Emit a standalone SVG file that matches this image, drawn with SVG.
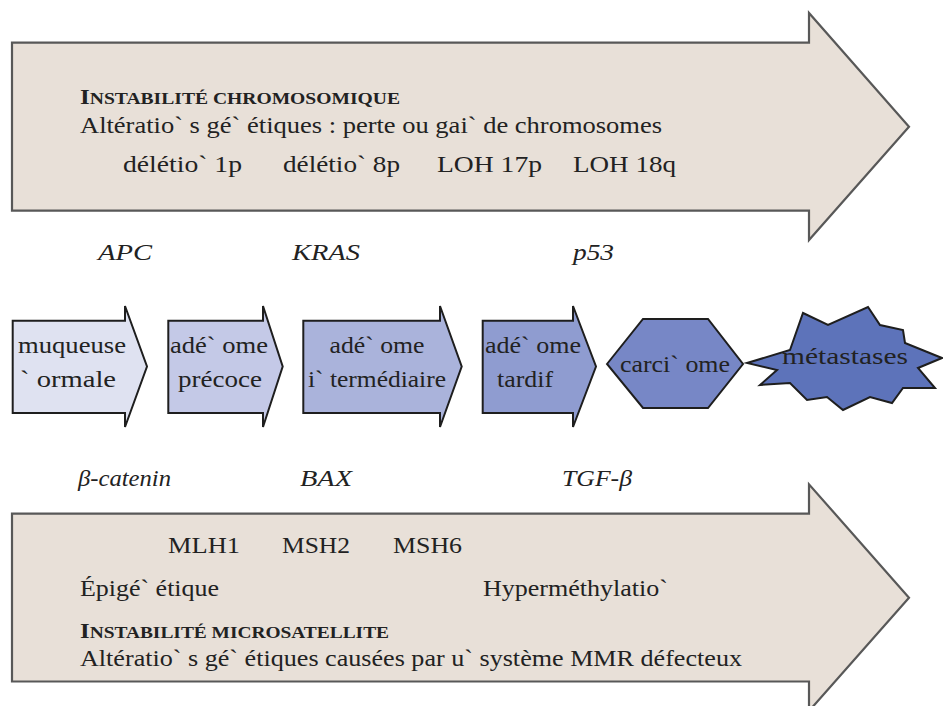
<svg xmlns="http://www.w3.org/2000/svg" width="943" height="706" viewBox="0 0 943 706">
  <style>
    .band { fill: #e8e0d8; stroke: #585858; stroke-width: 2.2; stroke-linejoin: miter; }
    .stage { stroke: #1e1e1e; stroke-width: 2; stroke-linejoin: miter; }
    text { font-family: "Liberation Serif", "DejaVu Serif", serif; fill: #222222; }
    .t { font-size: 23px; }
    .sc { font-size: 16px; font-weight: bold; }
    .cap { font-size: 20.5px; }
    .gene { font-size: 23px; font-style: italic; }
    .lbl { font-size: 24px; text-anchor: middle; }
  </style>
  <rect width="943" height="706" fill="#ffffff"/>

  <!-- top band: chromosomal instability -->
  <g id="band-chromosomique">
    <path class="band" d="M12,42.7 H809 V13 L909,126.7 L809,240 V210.7 H12 Z"/>
    <text class="sc" x="80" y="104" textLength="320" lengthAdjust="spacingAndGlyphs"><tspan class="cap">I</tspan>NSTABILITÉ CHROMOSOMIQUE</text>
    <text class="t" x="80" y="133" textLength="582" lengthAdjust="spacingAndGlyphs">Altératio` s gé` étiques : perte ou gai` de chromosomes</text>
    <text class="t" x="123" y="172" textLength="119" lengthAdjust="spacingAndGlyphs">délétio` 1p</text>
    <text class="t" x="283" y="172" textLength="117" lengthAdjust="spacingAndGlyphs">délétio` 8p</text>
    <text class="t" x="437" y="172" textLength="105" lengthAdjust="spacingAndGlyphs">LOH 17p</text>
    <text class="t" x="573" y="172" textLength="103" lengthAdjust="spacingAndGlyphs">LOH 18q</text>
  </g>

  <!-- bottom band: microsatellite instability -->
  <g id="band-microsatellite">
    <path class="band" d="M12,513.7 H809 V484.3 L909,597.7 L809,711 V681.5 H12 Z"/>
    <text class="t" x="168" y="553" textLength="72" lengthAdjust="spacingAndGlyphs">MLH1</text>
    <text class="t" x="282" y="553" textLength="68" lengthAdjust="spacingAndGlyphs">MSH2</text>
    <text class="t" x="393" y="553" textLength="69" lengthAdjust="spacingAndGlyphs">MSH6</text>
    <text class="t" x="80" y="596" textLength="139" lengthAdjust="spacingAndGlyphs">Épigé` étique</text>
    <text class="t" x="483" y="596" textLength="185" lengthAdjust="spacingAndGlyphs">Hyperméthylatio`</text>
    <text class="sc" x="80" y="638" textLength="309" lengthAdjust="spacingAndGlyphs"><tspan class="cap">I</tspan>NSTABILITÉ MICROSATELLITE</text>
    <text class="t" x="80" y="666" textLength="662" lengthAdjust="spacingAndGlyphs">Altératio` s gé` étiques causées par u` système MMR défecteux</text>
  </g>

  <!-- gene labels -->
  <g id="genes">
    <text class="gene" x="98" y="260" textLength="54" lengthAdjust="spacingAndGlyphs">APC</text>
    <text class="gene" x="292" y="260" textLength="68" lengthAdjust="spacingAndGlyphs">KRAS</text>
    <text class="gene" x="573" y="260" textLength="41" lengthAdjust="spacingAndGlyphs">p53</text>
    <text class="gene" x="78" y="486" textLength="93" lengthAdjust="spacingAndGlyphs">β-catenin</text>
    <text class="gene" x="300" y="486" textLength="52" lengthAdjust="spacingAndGlyphs">BAX</text>
    <text class="gene" x="562" y="486" textLength="70" lengthAdjust="spacingAndGlyphs">TGF-β</text>
  </g>

  <!-- progression stages -->
  <g id="stage-muqueuse">
    <path class="stage" fill="#dfe2f1" d="M12.7,320.7 H125 V306 L147,366.5 L125,427 V413 H12.7 Z"/>
    <text class="lbl" x="72" y="353" textLength="108" lengthAdjust="spacingAndGlyphs">muqueuse</text>
    <text class="lbl" x="68" y="387" textLength="96" lengthAdjust="spacingAndGlyphs">` ormale</text>
  </g>
  <g id="stage-adenome-precoce">
    <path class="stage" fill="#c4c9e7" d="M168.3,320.7 H263 V306 L282.7,366.5 L263,427 V413 H168.3 Z"/>
    <text class="lbl" x="219" y="353" textLength="98" lengthAdjust="spacingAndGlyphs">adé` ome</text>
    <text class="lbl" x="220" y="387" textLength="84" lengthAdjust="spacingAndGlyphs">précoce</text>
  </g>
  <g id="stage-adenome-intermediaire">
    <path class="stage" fill="#aab3db" d="M303.3,320.7 H440 V306 L461.7,366.5 L440,427 V413 H303.3 Z"/>
    <text class="lbl" x="377" y="353" textLength="95" lengthAdjust="spacingAndGlyphs">adé` ome</text>
    <text class="lbl" x="377" y="387" textLength="138" lengthAdjust="spacingAndGlyphs">i` termédiaire</text>
  </g>
  <g id="stage-adenome-tardif">
    <path class="stage" fill="#8f9cd0" d="M482.7,320.7 H573 V306 L596,366.5 L573,427 V413 H482.7 Z"/>
    <text class="lbl" x="533" y="353" textLength="96" lengthAdjust="spacingAndGlyphs">adé` ome</text>
    <text class="lbl" x="525" y="387" textLength="56" lengthAdjust="spacingAndGlyphs">tardif</text>
  </g>
  <g id="stage-carcinome">
    <path class="stage" fill="#7787c6" d="M607,364 L643,319 H708 L743,364 L708,408 H643 Z"/>
    <text class="lbl" x="675" y="372" textLength="110" lengthAdjust="spacingAndGlyphs">carci` ome</text>
  </g>
  <g id="stage-metastases">
    <path class="stage" fill="#5d73ba" d="M747,363 L790,350 L803,313 L828,325 L868,307 L880,325 L903,330 L905,343 L942,358 L918,368 L935,388 L903,388 L892,403 L870,397 L843,410 L827,397 L807,400 L790,383 L760,385 L777,370 Z"/>
    <text class="lbl" x="845" y="364" textLength="126" lengthAdjust="spacingAndGlyphs">métastases</text>
  </g>
</svg>
